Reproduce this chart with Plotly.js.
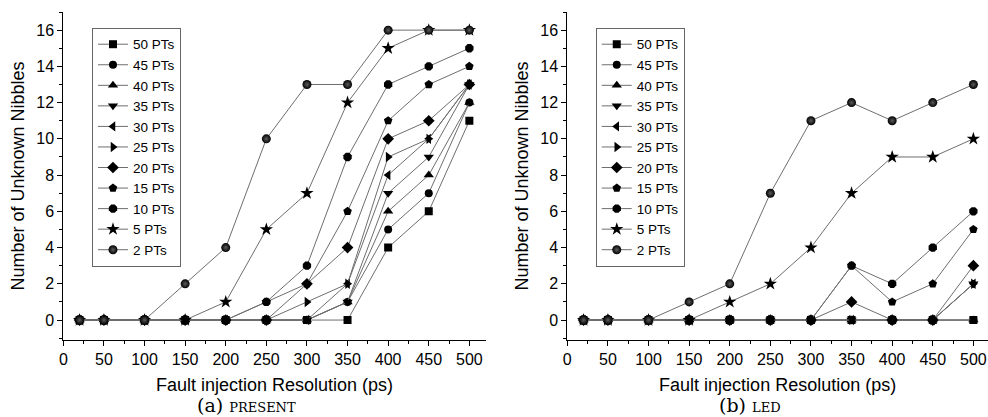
<!DOCTYPE html>
<html>
<head>
<meta charset="utf-8">
<script src="https://cdn.plot.ly/plotly-3.0.1.min.js"></script>
<style>html,body{margin:0;padding:0;background:#fff;}#chart{width:988px;height:417px;}</style>
</head>
<body>
<div id="chart"></div>
<script>
// ---- data ----
const resolutions = [20, 50, 100, 150, 200, 250, 300, 350, 400, 450, 500];
const seriesNames = ['50 PTs', '45 PTs', '40 PTs', '35 PTs', '30 PTs', '25 PTs', '20 PTs', '15 PTs', '10 PTs', '5 PTs', '2 PTs'];

// (a) PRESENT
const present50 = [0, 0, 0, 0, 0, 0, 0, 0, 4, 6, 11];
const present45 = [0, 0, 0, 0, 0, 0, 0, 1, 5, 7, 12];
const present40 = [0, 0, 0, 0, 0, 0, 0, 1, 6, 8, 12];
const present35 = [0, 0, 0, 0, 0, 0, 0, 1, 7, 9, 13];
const present30 = [0, 0, 0, 0, 0, 0, 0, 2, 8, 10, 13];
const present25 = [0, 0, 0, 0, 0, 0, 1, 2, 9, 10, 13];
const present20 = [0, 0, 0, 0, 0, 0, 2, 4, 10, 11, 13];
const present15 = [0, 0, 0, 0, 0, 1, 2, 6, 11, 13, 14];
const present10 = [0, 0, 0, 0, 0, 1, 3, 9, 13, 14, 15];
const present5  = [0, 0, 0, 0, 1, 5, 7, 12, 15, 16, 16];
const present2  = [0, 0, 0, 2, 4, 10, 13, 13, 16, 16, 16];

// (b) LED
const led50 = [0, 0, 0, 0, 0, 0, 0, 0, 0, 0, 0];
const led45 = [0, 0, 0, 0, 0, 0, 0, 0, 0, 0, 0];
const led40 = [0, 0, 0, 0, 0, 0, 0, 0, 0, 0, 0];
const led35 = [0, 0, 0, 0, 0, 0, 0, 0, 0, 0, 2];
const led30 = [0, 0, 0, 0, 0, 0, 0, 0, 0, 0, 2];
const led25 = [0, 0, 0, 0, 0, 0, 0, 0, 0, 0, 2];
const led20 = [0, 0, 0, 0, 0, 0, 0, 1, 0, 0, 3];
const led15 = [0, 0, 0, 0, 0, 0, 0, 3, 1, 2, 5];
const led10 = [0, 0, 0, 0, 0, 0, 0, 3, 2, 4, 6];
const led5  = [0, 0, 0, 0, 1, 2, 4, 7, 9, 9, 10];
const led2  = [0, 0, 0, 1, 2, 7, 11, 12, 11, 12, 13];

const yTickVals = [0, 2, 4, 6, 8, 10, 12, 14, 16];
const xTickVals = [0, 50, 100, 150, 200, 250, 300, 350, 400, 450, 500];

// ---- styling ----
const symbols = ['square', 'circle', 'triangle-up', 'triangle-down', 'triangle-left', 'triangle-right', 'diamond', 'pentagon', 'octagon', 'star', 'circle'];
const sizes = [8, 8, 9, 9, 9, 9, 9, 9, 9, 10, 9];

const presentSeries = [present50, present45, present40, present35, present30, present25, present20, present15, present10, present5, present2];
const ledSeries = [led50, led45, led40, led35, led30, led25, led20, led15, led10, led5, led2];

function makeTraces(seriesList, xa, ya, legendId) {
  return seriesList.map((ys, i) => {
    const marker = {symbol: symbols[i], size: sizes[i], color: '#000', line: {width: 0}};
    if (i === seriesList.length - 1) {
      marker.gradient = {type: 'radial', color: '#5c5c5c'};
    }
    return {
      x: resolutions, y: ys, name: seriesNames[i],
      type: 'scatter', mode: 'lines+markers',
      xaxis: xa, yaxis: ya, legend: legendId,
      line: {color: '#6e6e6e', width: 1},
      marker: marker
    };
  });
}

const traces = makeTraces(presentSeries, 'x', 'y', 'legend').concat(makeTraces(ledSeries, 'x2', 'y2', 'legend2'));

const fam = 'Liberation Sans, Arial, sans-serif';
const tickFont = {family: fam, size: 16, color: '#000'};
const titleFont = {family: fam, size: 18, color: '#000'};
const yDomain = [0.1847, 0.9712];

function xAxis(domain, range, anchor) {
  return {
    domain: domain, range: range, anchor: anchor,
    tickvals: xTickVals, ticks: 'outside', ticklen: 5, tickwidth: 1, tickcolor: '#000',
    minor: {dtick: 25, tick0: 0, ticks: 'outside', ticklen: 3, tickwidth: 1, tickcolor: '#000'},
    showline: true, linecolor: '#000', linewidth: 1,
    showgrid: false, zeroline: false, tickfont: tickFont,
    title: {text: 'Fault injection Resolution (ps)', font: titleFont, standoff: 11}
  };
}
function yAxis(anchor) {
  return {
    domain: yDomain, range: [-1.1, 17], anchor: anchor,
    tickvals: yTickVals, ticks: 'outside', ticklen: 5, tickwidth: 1, tickcolor: '#000',
    minor: {dtick: 1, tick0: 0, ticks: 'outside', ticklen: 3, tickwidth: 1, tickcolor: '#000'},
    showline: true, linecolor: '#000', linewidth: 1,
    showgrid: false, zeroline: false, tickfont: tickFont,
    title: {text: 'Number of Unknown Nibbles', font: titleFont, standoff: 7}
  };
}

const legendStyle = (x) => ({
  x: x, y: 0.933, xanchor: 'left', yanchor: 'top',
  bgcolor: '#fff', bordercolor: '#666', borderwidth: 1,
  font: {family: fam, size: 13.5, color: '#000'},
  tracegroupgap: 0, itemwidth: 30
});

const captionFont = {family: 'DejaVu Serif, Liberation Serif, serif', size: 19, color: '#000'};

const layout = {
  width: 988, height: 417,
  margin: {l: 0, r: 0, t: 0, b: 0},
  paper_bgcolor: '#fff', plot_bgcolor: '#fff',
  font: tickFont,
  showlegend: true,
  xaxis: xAxis([0.0641, 0.4915], [0, 520], 'y'),
  yaxis: yAxis('x'),
  xaxis2: xAxis([0.5742, 1.0], [0, 518], 'y2'),
  yaxis2: yAxis('x2'),
  legend: legendStyle(0.0931),
  legend2: legendStyle(0.603),
  annotations: [
    {text: "(a) <span style='font-size:13px'>PRESENT</span>", xref: 'paper', yref: 'paper', x: 246 / 988, y: 0,
     xanchor: 'center', yanchor: 'bottom', showarrow: false, font: captionFont, borderpad: 0},
    {text: "(b) <span style='font-size:13px'>LED</span>", xref: 'paper', yref: 'paper', x: 750 / 988, y: 0,
     xanchor: 'center', yanchor: 'bottom', showarrow: false, font: captionFont, borderpad: 0}
  ]
};

Plotly.newPlot('chart', traces, layout, {staticPlot: true, displayModeBar: false});
</script>
</body>
</html>
